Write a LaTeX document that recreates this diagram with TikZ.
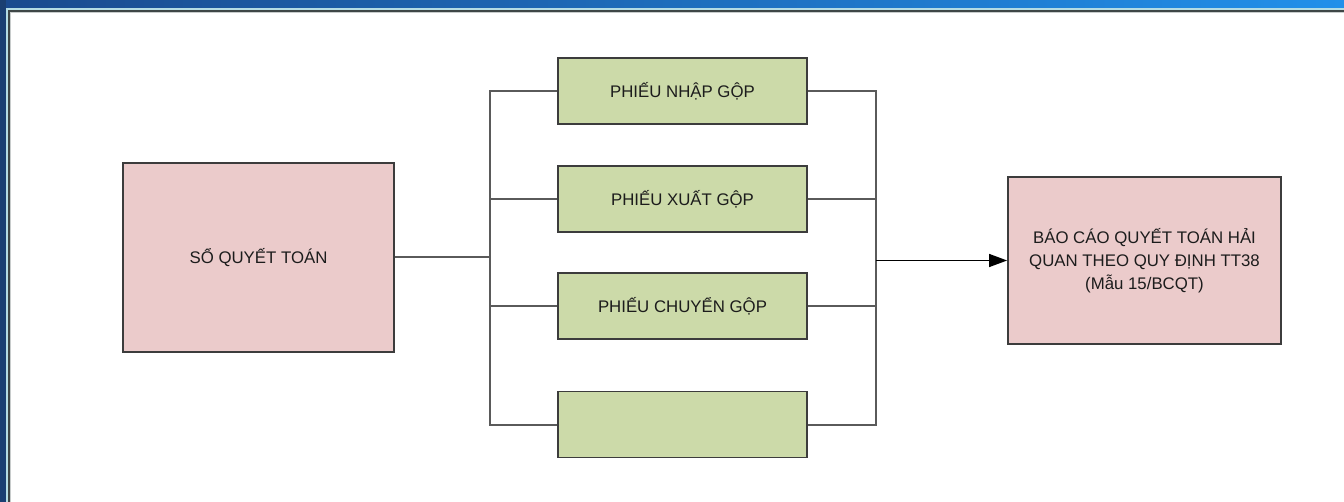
\documentclass[tikz,border=0pt]{standalone}
\usepackage{fontspec}
\setmainfont{Liberation Sans}
\usetikzlibrary{arrows.meta}

\definecolor{bandDark}{HTML}{1A4A8E}
\definecolor{bandLight}{HTML}{2290EA}
\definecolor{bandSide}{HTML}{1A3F72}
\definecolor{rimCyan}{HTML}{B4DCE4}
\definecolor{rimGrey}{HTML}{3E4646}
\definecolor{rimSoft}{HTML}{C8CCCC}
\definecolor{pinkFill}{HTML}{EBCBCB}
\definecolor{greenFill}{HTML}{CCDAA9}
\definecolor{edgeGrey}{HTML}{3C3C3C}
\definecolor{wireGrey}{HTML}{5A5A5A}
\definecolor{inkDark}{HTML}{1C1C1C}

\tikzset{
  box/.style={draw=edgeGrey, line width=1.8pt, inner sep=0pt, align=center,
              text=inkDark, font=\fontsize{16.8}{23}\selectfont},
  pinkbox/.style={box, fill=pinkFill},
  greenbox/.style={box, fill=greenFill, minimum width=249pt, minimum height=66pt},
  wire/.style={draw=wireGrey, line width=2pt},
  feed/.style={draw=black, line width=1.4pt, -{Triangle[length=18pt,width=13pt]}}
}

\begin{document}
\begin{tikzpicture}[x=1pt, y=-1pt]
\useasboundingbox (0,0) rectangle (1344,502);

% window frame: blue title band, side band and inner rims
\fill[white] (0,0) rectangle (1344,502);
\shade[left color=bandDark, right color=bandLight] (0,0) rectangle (1344,8);
\fill[bandSide] (0,0) rectangle (6,502);
\fill[rimCyan] (6,8) rectangle (1344,10);
\fill[rimCyan] (6,8) rectangle (8,502);
\fill[rimGrey] (8,10) rectangle (1344,12);
\fill[rimGrey] (8,10) rectangle (10,502);
\fill[rimSoft] (10,12) rectangle (1344,13);
\fill[rimSoft] (10,12) rectangle (11,502);

% source and target documents
\node[pinkbox, minimum width=271pt, minimum height=189pt] (so) at (258.5,257.5) {SỔ QUYẾT TOÁN};
\node[pinkbox, minimum width=273pt, minimum height=167pt] (bc) at (1144.5,260.5)
  {BÁO CÁO QUYẾT TOÁN HẢI\\QUAN THEO QUY ĐỊNH TT38\\(Mẫu 15/BCQT)};

% grouped vouchers
\node[greenbox] (p1) at (682.5,91) {PHIẾU NHẬP GỘP};
\node[greenbox] (p2) at (682.5,199) {PHIẾU XUẤT GỘP};
\node[greenbox] (p3) at (682.5,306) {PHIẾU CHUYỂN GỘP};
\node[greenbox] (p4) at (682.5,424.5) {};

% bus junctions
\coordinate (lb) at (490,257.5);
\coordinate (rb) at (876,260.5);

% left bus
\draw[wire] (so.east) -- (lb);
\draw[wire] (p1.west) -- (p1.west -| lb) -- (p4.west -| lb) -- (p4.west);
\draw[wire] (p2.west) -- (p2.west -| lb);
\draw[wire] (p3.west) -- (p3.west -| lb);

% right bus
\draw[wire] (p1.east) -- (p1.east -| rb) -- (p4.east -| rb) -- (p4.east);
\draw[wire] (p2.east) -- (p2.east -| rb);
\draw[wire] (p3.east) -- (p3.east -| rb);

% result arrow
\draw[feed] (rb) -- (bc.west);
\end{tikzpicture}
\end{document}
